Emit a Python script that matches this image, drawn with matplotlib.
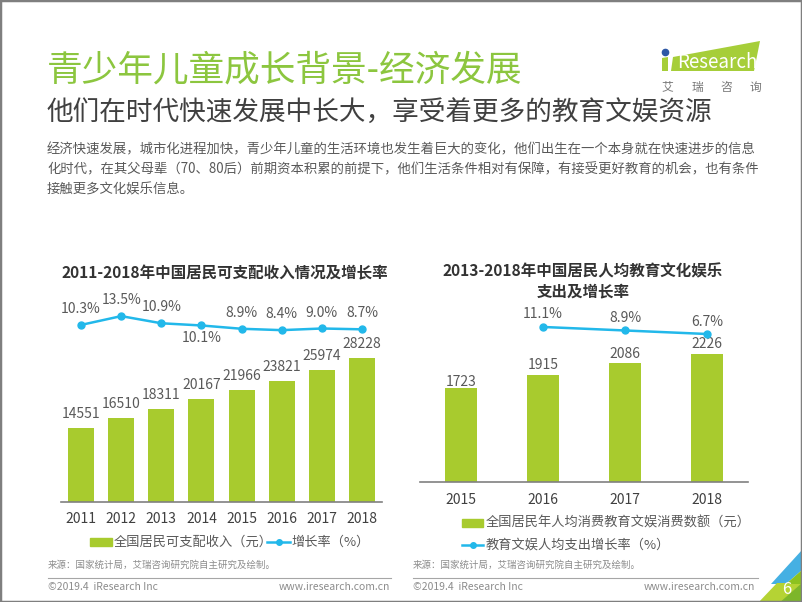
import matplotlib
matplotlib.use("Agg")
import matplotlib.pyplot as plt
from matplotlib.patches import Polygon, Rectangle
from matplotlib.lines import Line2D

plt.rcParams['font.family'] = ['Noto Sans CJK SC', 'DejaVu Sans']

# data
years_l = ['2011', '2012', '2013', '2014', '2015', '2016', '2017', '2018']
income = [14551, 16510, 18311, 20167, 21966, 23821, 25974, 28228]
income_rate = [10.3, 13.5, 10.9, 10.1, 8.9, 8.4, 9.0, 8.7]

years_r = ['2015', '2016', '2017', '2018']
edu_spend = [1723, 1915, 2086, 2226]
edu_rate_years = [1, 2, 3]
edu_rate = [11.1, 8.9, 6.7]

GREEN = '#A8CB2E'
BLUE = '#22B8EA'
TGREEN = '#8CC63F'
GRAY = '#595959'
DARK = '#333333'

W, H = 802, 602
fig = plt.figure(figsize=(8.02, 6.02), dpi=100)


def fx(x):
    return x / W


def fy(y):
    return 1 - y / H


def px_text(x, y, s, **kw):
    fig.text(fx(x), fy(y), s, **kw)


def poly(pts, color):
    fig.patches.append(Polygon([(fx(a), fy(b)) for a, b in pts], closed=True,
                               transform=fig.transFigure, color=color, lw=0))


# header
px_text(47, 70, '青少年儿童成长背景-经济发展', fontsize=25.7, color=TGREEN, va='center')
px_text(47, 112, '他们在时代快速发展中长大，享受着更多的教育文娱资源', fontsize=19.2, color='#404040', va='center')
body = ['经济快速发展，城市化进程加快，青少年儿童的生活环境也发生着巨大的变化，他们出生在一个本身就在快速进步的信息',
        '化时代，在其父母辈（70、80后）前期资本积累的前提下，他们生活条件相对有保障，有接受更好教育的机会，也有条件',
        '接触更多文化娱乐信息。']
for i, line in enumerate(body):
    px_text(47, 149 + i * 20.5, line, fontsize=9.6, color=GRAY, va='center')

# logo
poly([(673, 57), (760, 41), (754, 71), (671, 71)], '#A6CE39')
poly([(662, 58), (668, 57), (668, 71), (662, 71)], '#A6CE39')
fig.lines.append(Line2D([fx(665)], [fy(52)], transform=fig.transFigure, marker='o',
                        markersize=4.5, color='#2D57A5', lw=0))
px_text(677, 62, 'Research', fontsize=13.5, color='white', va='center')
for cx, ch in zip([667, 697, 726, 755], '艾瑞咨询'):
    px_text(cx, 87, ch, fontsize=8.5, color='#777777', va='center', ha='center')

# left chart
axl = fig.add_axes([fx(61), fy(502), 321 / W, 212 / H])
xl = range(len(years_l))
axl.bar(xl, income, width=0.65, color=GREEN)
for x, v in zip(xl, income):
    axl.annotate(str(v), (x, v), xytext=(0, 10), textcoords='offset points',
                 ha='center', va='center', fontsize=10, color=GRAY)
axl.set_xlim(-0.5, 7.5)
axl.set_ylim(0, 41570)
axl.set_xticks(list(xl))
axl.set_xticklabels(years_l, fontsize=10, color='#404040')
axl.tick_params(axis='x', length=0, pad=7)
axl.set_yticks([])
for s in ['top', 'right', 'left']:
    axl.spines[s].set_visible(False)
axl.spines['bottom'].set_color('#808080')
axl.spines['bottom'].set_linewidth(1.2)
axl.patch.set_alpha(0)

tl = axl.twinx()
tl.plot(xl, income_rate, color=BLUE, lw=1.8, marker='o', markersize=5)
for x, v in zip(xl, income_rate):
    off = -9 if x == 3 else 11.5
    tl.annotate('%.1f%%' % v, (x, v), xytext=(0, off), textcoords='offset points',
                ha='center', va='center', fontsize=10, color=GRAY)
tl.set_ylim(-54.1, 23.0)
tl.axis('off')

px_text(225, 273, '2011-2018年中国居民可支配收入情况及增长率', fontsize=11.2, fontweight='bold',
        color=DARK, ha='center', va='center')

# left legend
fig.patches.append(Rectangle((fx(90), fy(546)), 22 / W, 8 / H, transform=fig.transFigure, color=GREEN))
px_text(114, 542, '全国居民可支配收入（元）', fontsize=9.5, color=GRAY, va='center')
fig.lines.append(Line2D([fx(267), fx(290)], [fy(542), fy(542)], transform=fig.transFigure, color=BLUE, lw=1.8))
fig.lines.append(Line2D([fx(278.5)], [fy(542)], transform=fig.transFigure, color=BLUE, marker='o', markersize=4))
px_text(291, 542, '增长率（%）', fontsize=9.5, color=GRAY, va='center')

# right chart
axr = fig.add_axes([fx(420), fy(482), 328 / W, 192 / H])
xr = range(len(years_r))
axr.bar(xr, edu_spend, width=0.39, color=GREEN)
for x, v in zip(xr, edu_spend):
    off = 4 if x == 0 else 7
    axr.annotate(str(v), (x, v), xytext=(0, off), textcoords='offset points',
                 ha='center', va='center', fontsize=10, color=GRAY)
axr.set_xlim(-0.5, 3.5)
axr.set_ylim(333, 3173)
axr.set_xticks(list(xr))
axr.set_xticklabels(years_r, fontsize=10, color='#404040')
axr.tick_params(axis='x', length=0, pad=8)
axr.set_yticks([])
for s in ['top', 'right', 'left']:
    axr.spines[s].set_visible(False)
axr.spines['bottom'].set_color('#808080')
axr.spines['bottom'].set_linewidth(1.2)
axr.patch.set_alpha(0)

tr = axr.twinx()
tr.plot(edu_rate_years, edu_rate, color=BLUE, lw=1.8, marker='o', markersize=5)
for x, v in zip(edu_rate_years, edu_rate):
    tr.annotate('%.1f%%' % v, (x, v), xytext=(0, 9), textcoords='offset points',
                ha='center', va='center', fontsize=10, color=GRAY)
tr.set_ylim(-85.8, 34.2)
tr.axis('off')

px_text(583, 271, '2013-2018年中国居民人均教育文化娱乐', fontsize=11.2, fontweight='bold',
        color=DARK, ha='center', va='center')
px_text(583, 291, '支出及增长率', fontsize=11.2, fontweight='bold',
        color=DARK, ha='center', va='center')

# right legend
fig.patches.append(Rectangle((fx(462), fy(527)), 21 / W, 8 / H, transform=fig.transFigure, color=GREEN))
px_text(486, 523, '全国居民年人均消费教育文娱消费数额（元）', fontsize=9.5, color=GRAY, va='center')
fig.lines.append(Line2D([fx(462), fx(483)], [fy(545), fy(545)], transform=fig.transFigure, color=BLUE, lw=1.8))
fig.lines.append(Line2D([fx(472.5)], [fy(545)], transform=fig.transFigure, color=BLUE, marker='o', markersize=4))
px_text(486, 545, '教育文娱人均支出增长率（%）', fontsize=9.5, color=GRAY, va='center')

# sources and footer
src = '来源：国家统计局，艾瑞咨询研究院自主研究及绘制。'
px_text(48, 565, src, fontsize=6.8, color='#8c8c8c', va='center')
px_text(413, 565, src, fontsize=6.8, color='#8c8c8c', va='center')
for x0, x1 in [(48, 391), (413, 758)]:
    fig.lines.append(Line2D([fx(x0), fx(x1)], [fy(578), fy(578)], transform=fig.transFigure,
                            color='#a6a6a6', lw=0.8))
px_text(48, 587, '©2019.4  iResearch Inc', fontsize=7.5, color='#8c8c8c', va='center')
px_text(390, 587, 'www.iresearch.com.cn', fontsize=7.5, color='#8c8c8c', va='center', ha='right')
px_text(413, 587, '©2019.4  iResearch Inc', fontsize=7.5, color='#8c8c8c', va='center')
px_text(755, 587, 'www.iresearch.com.cn', fontsize=7.5, color='#8c8c8c', va='center', ha='right')

# corner decoration
poly([(771, 584), (802, 550), (802, 570), (786, 584)], '#45B0E3')
poly([(757, 604), (777, 583), (802, 583), (802, 604)], '#B5D334')
poly([(786, 584), (802, 570), (802, 584)], '#8DC21F')
poly([(778, 604), (802, 583), (802, 604)], '#7DB62A')
px_text(787, 590, '6', fontsize=12, color='white', va='center', ha='center')

# border
fig.patches.append(Rectangle((0, 0), 1, 1, transform=fig.transFigure, fill=False,
                             edgecolor='#7f7f7f', lw=2.5))

fig.savefig('out.png', dpi=100)
